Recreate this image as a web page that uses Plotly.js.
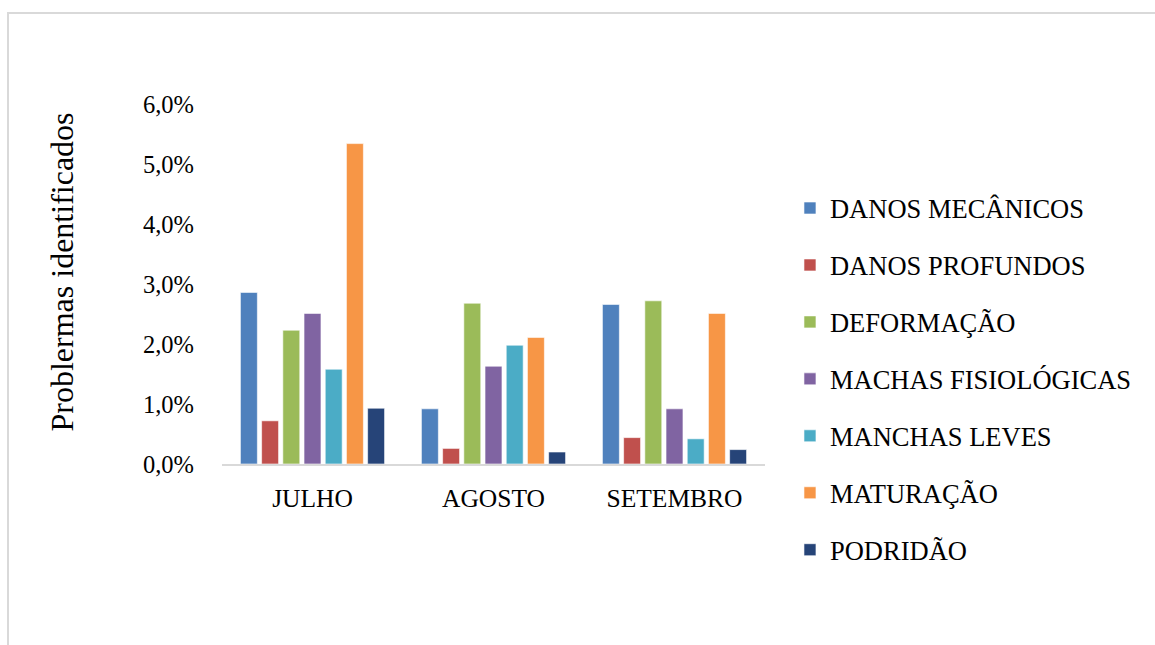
<!DOCTYPE html>
<html>
<head>
<meta charset="utf-8">
<script src="https://cdn.plot.ly/plotly-3.0.1.min.js"></script>
<style>
  html, body { margin: 0; padding: 0; background: #ffffff; }
  #frame {
    position: absolute; left: 7px; top: 12px; width: 1200px; height: 700px;
    border-left: 2px solid #d9d9d9; border-top: 2px solid #d9d9d9;
  }
  #chart { position: absolute; left: 0; top: 0; width: 1155px; height: 645px; }
</style>
</head>
<body>
<div id="frame"></div>
<div id="chart"></div>
<script>
// Months on the category axis
const months = ['JULHO', 'AGOSTO', 'SETEMBRO'];

// Share of fruit with each problem, per month (fraction of 1)
const danosMecanicos     = [0.0286, 0.0092, 0.0266];
const danosProfundos     = [0.0072, 0.0026, 0.0044];
const deformacao         = [0.0223, 0.0268, 0.0272];
const machasFisiologicas = [0.0251, 0.0163, 0.0092];
const manchasLeves       = [0.0158, 0.0198, 0.0042];
const maturacao          = [0.0534, 0.0211, 0.0251];
const podridao           = [0.0093, 0.0020, 0.0024];

const seriesNames = [
  'DANOS MECÂNICOS', 'DANOS PROFUNDOS', 'DEFORMAÇÃO',
  'MACHAS FISIOLÓGICAS', 'MANCHAS LEVES', 'MATURAÇÃO', 'PODRIDÃO'
];
const seriesValues = [
  danosMecanicos, danosProfundos, deformacao,
  machasFisiologicas, manchasLeves, maturacao, podridao
];
const seriesColors = [
  '#4F81BD', '#C0504D', '#9BBB59', '#8064A2', '#4BACC6', '#F79646', '#264478'
];

const yTitle = 'Problermas identificados';

const FONT = 'Liberation Serif, Times New Roman, serif';

const traces = seriesNames.map((name, i) => ({
  type: 'bar',
  name: name,
  x: months,
  y: seriesValues[i],
  legendgroup: 'g' + i,
  marker: { color: seriesColors[i], line: { color: 'rgba(255,255,255,0.6)', width: 1 } },
  hovertemplate: '%{x}: %{y:.1%}<extra>' + name + '</extra>'
}));

const layout = {
  width: 1155,
  height: 645,
  margin: { l: 222, r: 390, t: 104, b: 181 },
  paper_bgcolor: 'rgba(0,0,0,0)',
  plot_bgcolor: 'rgba(0,0,0,0)',
  separators: ',.',
  font: { family: FONT, size: 24, color: '#000000' },
  barmode: 'group',
  bargap: 0.18,
  bargroupgap: 0.2,
  showlegend: true,
  legend: {
    x: 1.046, xanchor: 'left',
    y: 0.777, yanchor: 'top',
    font: { family: FONT, size: 26.5, color: '#000000' },
    traceorder: 'grouped',
    tracegroupgap: 19.5,
    maxheight: 640,
    bgcolor: 'rgba(0,0,0,0)'
  },
  xaxis: {
    type: 'category',
    showgrid: false,
    showline: true,
    linecolor: '#d9d9d9',
    linewidth: 2,
    ticks: '',
    ticklabelstandoff: 10,
    tickfont: { family: FONT, size: 25.5, color: '#000000' },
    fixedrange: true
  },
  yaxis: {
    range: [0, 0.06],
    dtick: 0.01,
    tick0: 0,
    tickformat: '.1%',
    showgrid: false,
    showline: false,
    zeroline: false,
    ticks: '',
    ticklabelstandoff: 27,
    tickfont: { family: FONT, size: 24.5, color: '#000000' },
    automargin: false,
    fixedrange: true
  },
  // vertical axis caption, placed a little above the middle of the value axis
  annotations: [{
    text: yTitle,
    textangle: -90,
    xref: 'paper', yref: 'paper',
    x: -0.2947, y: 0.5347,
    xanchor: 'center', yanchor: 'middle',
    showarrow: false,
    font: { family: FONT, size: 32, color: '#000000' }
  }]
};

Plotly.newPlot('chart', traces, layout, { displayModeBar: false });
</script>
</body>
</html>
